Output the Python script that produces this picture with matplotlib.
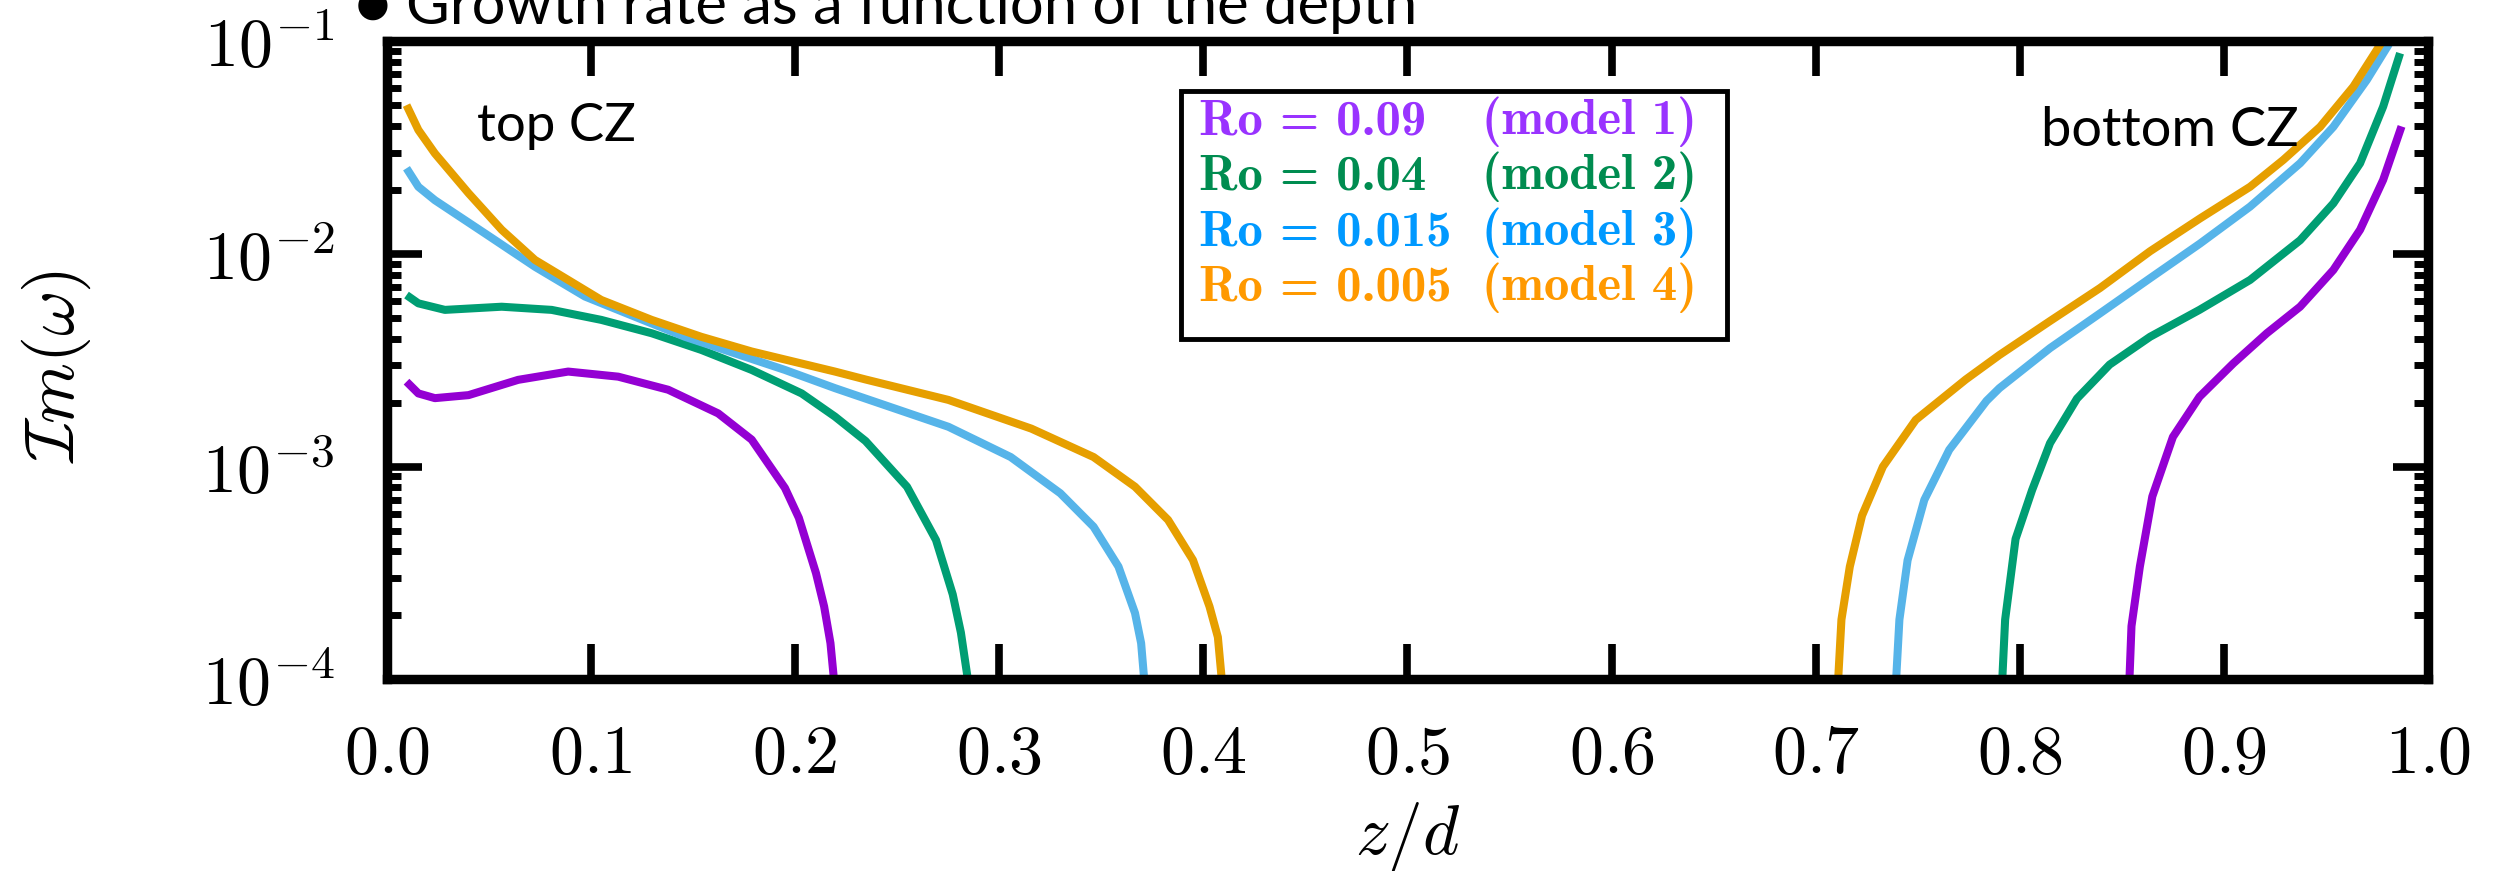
import matplotlib
matplotlib.use("Agg")
import matplotlib.pyplot as plt
from matplotlib.patches import Rectangle
from matplotlib.ticker import LogLocator, NullFormatter

plt.rcParams["mathtext.fontset"] = "cm"

# growth rate vs depth (top CZ branch, bottom CZ branch)
Z_TOP_1 = [0.0096, 0.0154, 0.0235, 0.040, 0.0643, 0.0888, 0.1133, 0.1378, 0.1623, 0.1787,
           0.195, 0.2018, 0.2102, 0.2142, 0.2173, 0.219]
IM_TOP_1 = [2.51e-3, 2.21e-3, 2.10e-3, 2.17e-3, 2.56e-3, 2.80e-3, 2.65e-3, 2.30e-3, 1.78e-3, 1.34e-3,
            7.94e-4, 5.75e-4, 3.16e-4, 2.20e-4, 1.48e-4, 1.0e-4]
Z_BOT_1 = [0.8537, 0.8547, 0.8588, 0.8649, 0.875, 0.888, 0.9046, 0.921, 0.9373, 0.9536, 0.9667, 0.978, 0.987]
IM_BOT_1 = [1.0e-4, 1.78e-4, 3.39e-4, 7.24e-4, 1.38e-3, 2.13e-3, 3.06e-3, 4.24e-3, 5.65e-3, 8.41e-3,
            1.30e-2, 2.23e-2, 3.98e-2]

Z_TOP_2 = [0.0096, 0.0154, 0.0284, 0.0562, 0.0807, 0.105, 0.1297, 0.154, 0.1787, 0.2032,
           0.2195, 0.2345, 0.2548, 0.269, 0.2772, 0.2812, 0.2846]
IM_TOP_2 = [6.41e-3, 5.86e-3, 5.46e-3, 5.65e-3, 5.46e-3, 4.90e-3, 4.24e-3, 3.54e-3, 2.85e-3, 2.21e-3,
            1.72e-3, 1.32e-3, 8.05e-4, 4.52e-4, 2.51e-4, 1.66e-4, 1.0e-4]
Z_BOT_2 = [0.7914, 0.7928, 0.7979, 0.806, 0.8148, 0.828, 0.844, 0.8638, 0.888, 0.9128, 0.9373,
           0.9536, 0.9667, 0.978, 0.9863]
IM_BOT_2 = [1.0e-4, 1.91e-4, 4.57e-4, 7.76e-4, 1.29e-3, 2.09e-3, 3.02e-3, 4.08e-3, 5.46e-3, 7.55e-3,
            1.16e-2, 1.73e-2, 2.67e-2, 4.93e-2, 8.79e-2]

Z_TOP_3 = [0.0096, 0.0154, 0.0235, 0.048, 0.0725, 0.097, 0.1215, 0.146, 0.1705, 0.195, 0.2195,
           0.2345, 0.2751, 0.3056, 0.3299, 0.3462, 0.3584, 0.3665, 0.3695, 0.371]
IM_TOP_3 = [2.53e-2, 2.07e-2, 1.79e-2, 1.25e-2, 8.71e-3, 6.31e-3, 5.07e-3, 4.08e-3, 3.41e-3, 2.85e-3, 2.34e-3,
            2.09e-3, 1.54e-3, 1.11e-3, 7.5e-4, 5.22e-4, 3.39e-4, 2.05e-4, 1.48e-4, 1.0e-4]
Z_BOT_3 = [0.7394, 0.741, 0.745, 0.7532, 0.7654, 0.7837, 0.790, 0.8148, 0.8393, 0.8638, 0.8883,
           0.9128, 0.9373, 0.9536, 0.970, 0.9806, 0.982]
IM_BOT_3 = [1.0e-4, 1.91e-4, 3.63e-4, 6.98e-4, 1.20e-3, 2.04e-3, 2.34e-3, 3.61e-3, 5.26e-3, 7.69e-3, 1.12e-2,
            1.67e-2, 2.67e-2, 3.96e-2, 6.58e-2, 9.62e-2, 1.05e-1]

Z_TOP_4 = [0.0096, 0.0154, 0.0235, 0.040, 0.0562, 0.0725, 0.0888, 0.105, 0.1297, 0.154, 0.1787,
           0.2195, 0.2345, 0.2751, 0.3157, 0.3462, 0.3665, 0.3827, 0.3949, 0.403, 0.4071, 0.409]
IM_TOP_4 = [5.01e-2, 3.83e-2, 2.97e-2, 1.93e-2, 1.30e-2, 9.38e-3, 7.55e-3, 6.08e-3, 4.90e-3, 4.08e-3, 3.48e-3,
            2.80e-3, 2.57e-3, 2.06e-3, 1.51e-3, 1.11e-3, 8.05e-4, 5.62e-4, 3.64e-4, 2.20e-4, 1.58e-4, 1.0e-4]
Z_BOT_4 = [0.711, 0.7126, 0.7167, 0.7227, 0.7329, 0.749, 0.7735, 0.790, 0.8148, 0.8393, 0.8638, 0.8883,
           0.9128, 0.9291, 0.9471, 0.9634, 0.9765, 0.978]
IM_BOT_4 = [1.0e-4, 1.91e-4, 3.39e-4, 5.89e-4, 1.0e-3, 1.66e-3, 2.57e-3, 3.35e-3, 4.84e-3, 6.92e-3, 1.03e-2,
            1.47e-2, 2.07e-2, 2.77e-2, 3.96e-2, 6.12e-2, 9.62e-2, 1.05e-1]

RO = ["0.09", "0.04", "0.015", "0.005"]
MODELS = ["1", "2", "3", "4"]
LINE_COLORS = ["#9400D3", "#009E73", "#56B4E9", "#E69F00"]
TEXT_COLORS = ["#9933FF", "#008C50", "#0099FF", "#FF9900"]

XTICKS = [0.0, 0.1, 0.2, 0.3, 0.4, 0.5, 0.6, 0.7, 0.8, 0.9, 1.0]
XTICKLABELS = [r"$%.1f$" % v for v in XTICKS]
YTICKS = [1e-4, 1e-3, 1e-2, 1e-1]
YTICKLABELS = [r"$10^{-4}$", r"$10^{-3}$", r"$10^{-2}$", r"$10^{-1}$"]

branches = [
    ((Z_TOP_1, IM_TOP_1), (Z_BOT_1, IM_BOT_1)),
    ((Z_TOP_2, IM_TOP_2), (Z_BOT_2, IM_BOT_2)),
    ((Z_TOP_3, IM_TOP_3), (Z_BOT_3, IM_BOT_3)),
    ((Z_TOP_4, IM_TOP_4), (Z_BOT_4, IM_BOT_4)),
]

fig = plt.figure(figsize=(25.06, 8.71), dpi=100)
ax = fig.add_axes([0.1544, 0.2200, 0.8145, 0.7326])

for (top, bot), col in zip(branches, LINE_COLORS):
    for zz, im in (top, bot):
        ax.plot(zz, im, color=col, lw=5.8, solid_capstyle="butt", solid_joinstyle="round")

ax.set_yscale("log")
ax.set_xlim(0, 1)
ax.set_ylim(1e-4, 1e-1)

ax.set_xticks(XTICKS)
ax.set_xticklabels(XTICKLABELS)
ax.set_yticks(YTICKS)
ax.set_yticklabels(YTICKLABELS)
ax.yaxis.set_minor_locator(LogLocator(base=10, subs=range(2, 10)))
ax.yaxis.set_minor_formatter(NullFormatter())

ax.tick_params(which="both", direction="in", top=True, right=True)
ax.tick_params(which="major", length=25, width=5.5, labelsize=49)
ax.tick_params(which="minor", length=10, width=5)
ax.tick_params(axis="x", pad=30)
ax.tick_params(axis="y", pad=38)
for sp in ax.spines.values():
    sp.set_linewidth(6.8)

ax.set_xlabel(r"$z/d$", fontsize=50)
ax.set_ylabel(r"$\mathcal{I}m(\omega)$", fontsize=50)
ax.xaxis.set_label_coords(0.5, -0.189)
ax.yaxis.set_label_coords(-0.144, 0.49)

# legend drawn by hand: two aligned columns of coloured bold text in a box
ax.add_patch(Rectangle((0.3891, 0.5335), 0.2675, 0.3887, transform=ax.transAxes,
                       facecolor="white", edgecolor="black", lw=3.5, zorder=5))
for i, (ro, m, tc) in enumerate(zip(RO, MODELS, TEXT_COLORS)):
    yy = 0.874 - i * 0.087
    ax.text(0.398, yy, "Ro = " + ro, color=tc, fontsize=36.5,
            family=["cmb10", "DejaVu Serif"],
            transform=ax.transAxes, va="center", ha="left", zorder=6)
    ax.text(0.6418, yy, "(model " + m + ")", color=tc, fontsize=36.5,
            family=["cmb10", "DejaVu Serif"],
            transform=ax.transAxes, va="center", ha="right", zorder=6)

ax.text(0.044, 0.867, "top CZ", fontsize=38, family=["Lato", "DejaVu Sans"],
        transform=ax.transAxes, va="center", ha="left")
ax.text(0.9365, 0.86, "bottom CZ", fontsize=39, family=["Lato", "DejaVu Sans"],
        transform=ax.transAxes, va="center", ha="right")

fig.text(355 / 2506, 1 - 24 / 871, "\u25cf Growth rate as a function of the depth",
         fontsize=43, family=["Lato", "DejaVu Sans"], va="baseline", ha="left")

fig.savefig("out.png", dpi=100)
